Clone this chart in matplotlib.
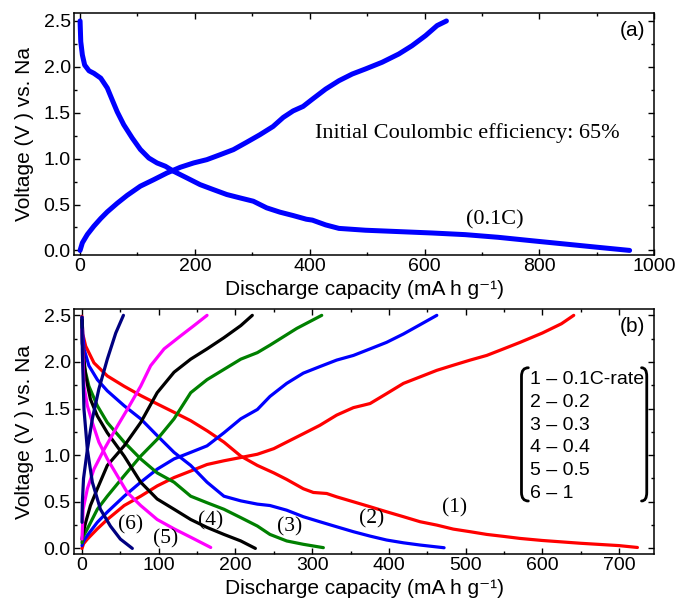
import matplotlib
matplotlib.use("Agg")
import matplotlib.pyplot as plt
from matplotlib.path import Path
from matplotlib.patches import PathPatch
from matplotlib.ticker import MultipleLocator, FormatStrFormatter

plt.rcParams["font.family"] = ["Liberation Sans", "DejaVu Sans"]
SERIF = ["Liberation Serif", "DejaVu Serif"]

# ---- (a) first cycle at 0.1C ----
a_dis_cap = [0, 1.2, 4, 8, 15.6, 24, 36, 47.4, 56, 64.7, 76, 90.8, 105, 119.7, 134, 148.6,
             163, 186, 209, 232, 255.5, 278.6, 301.7, 324.9, 348, 371, 394, 404.6, 427.7,
             450.8, 497, 555, 612.7, 670.5, 728, 786, 844, 901.6, 957]
a_dis_v = [2.5, 2.275, 2.13, 2.02, 1.957, 1.93, 1.877, 1.77, 1.64, 1.51, 1.37, 1.225, 1.10,
           1.007, 0.953, 0.917, 0.862, 0.79, 0.717, 0.663, 0.609, 0.572, 0.536, 0.464, 0.417,
           0.38, 0.34, 0.33, 0.278, 0.24, 0.22, 0.205, 0.19, 0.172, 0.143, 0.106, 0.07, 0.034, 0.0]
a_chg_cap = [0, 4, 12.7, 24, 36, 47.4, 64.7, 82, 105, 128, 151.4, 174.6, 197.7, 220.8, 244, 267,
             290, 313, 336, 353.8, 371, 388.4, 404.6, 427.7, 450.8, 474, 497, 526, 555, 578,
             601.6, 621.8, 638]
a_chg_v = [0.0, 0.083, 0.174, 0.264, 0.348, 0.42, 0.514, 0.60, 0.70, 0.77, 0.844, 0.906, 0.953,
           0.989, 1.043, 1.098, 1.178, 1.26, 1.35, 1.449, 1.52, 1.569, 1.648, 1.758, 1.849,
           1.922, 1.977, 2.05, 2.14, 2.23, 2.34, 2.45, 2.5]

# ---- (b) rate capability, curves 1..6 ----
rate_labels = ["1 \u2013 0.1C-rate", "2 \u2013 0.2", "3 \u2013 0.3", "4 \u2013 0.4", "5 \u2013 0.5", "6 \u2013 1"]
curve_tags = ["(1)", "(2)", "(3)", "(4)", "(5)", "(6)"]
colors = ["#ff0000", "#0000ff", "#008000", "#000000", "#ff00ff", "#000080"]

dis1_cap = [0, 1, 4.8, 15.6, 33, 54.8, 76.5, 98, 120, 141.7, 163.4, 185, 207, 228.6, 250, 266.8,
            288.5, 301.6, 319, 332, 353.8, 375.5, 397, 419, 440.8, 462.5, 484, 506, 527.6, 549.4,
            571, 600, 650, 700, 724]
dis1_v = [2.49, 2.3, 2.17, 1.99, 1.85, 1.74, 1.64, 1.55, 1.46, 1.37, 1.26, 1.14, 0.99, 0.89, 0.81,
          0.74, 0.64, 0.60, 0.589, 0.553, 0.50, 0.447, 0.393, 0.34, 0.286, 0.25, 0.207, 0.179,
          0.15, 0.129, 0.107, 0.085, 0.055, 0.03, 0.01]
chg1_cap = [0, 2, 7, 20, 33, 55, 76.5, 98, 120, 141.7, 163, 185, 207, 228.6, 250, 266.8, 288.5,
            310, 332, 353.8, 366.8, 375.5, 397, 419, 440.8, 462.5, 484, 506, 527.6, 549.4, 571,
            600, 625, 641]
chg1_v = [0.0, 0.05, 0.1, 0.21, 0.31, 0.46, 0.56, 0.67, 0.76, 0.83, 0.90, 0.94, 0.975, 1.01, 1.07,
          1.14, 1.23, 1.32, 1.43, 1.51, 1.536, 1.554, 1.66, 1.77, 1.84, 1.91, 1.965, 2.02, 2.07,
          2.14, 2.21, 2.31, 2.41, 2.5]

dis2_cap = [0, 1, 2.6, 9, 20, 33, 55, 76.5, 98, 120, 141.7, 163, 185, 207, 228.6, 245, 266.8,
            288.5, 310, 332, 353.8, 375.5, 397, 419, 440.8, 472]
dis2_v = [2.48, 2.3, 2.14, 1.96, 1.81, 1.69, 1.53, 1.39, 1.21, 1.03, 0.89, 0.71, 0.56, 0.51, 0.475,
          0.46, 0.41, 0.34, 0.286, 0.232, 0.179, 0.132, 0.09, 0.06, 0.036, 0.007]
chg2_cap = [0, 2, 7, 20, 33, 55, 76.5, 98, 120, 141.7, 163, 185, 207, 228.6, 245, 266.8, 288.5,
            310, 332, 353.8, 375.5, 397, 419, 440.8, 462.5]
chg2_v = [0.03, 0.08, 0.14, 0.28, 0.39, 0.56, 0.71, 0.85, 0.96, 1.03, 1.10, 1.24, 1.39, 1.49,
          1.63, 1.77, 1.88, 1.95, 2.02, 2.07, 2.14, 2.21, 2.30, 2.40, 2.5]

dis3_cap = [0, 0.5, 2.6, 9, 20, 33, 55, 76.5, 98, 120, 141.7, 163, 185, 207, 228.6, 245, 266.8,
            288.5, 314.6]
dis3_v = [2.45, 2.2, 1.96, 1.74, 1.53, 1.35, 1.14, 0.96, 0.81, 0.71, 0.56, 0.49, 0.42, 0.33, 0.24,
          0.15, 0.08, 0.044, 0.008]
chg3_cap = [0, 1, 7, 20, 33, 55, 76.5, 98, 120, 141.7, 163, 185, 207, 228.6, 245, 280, 312.5]
chg3_v = [0.06, 0.12, 0.21, 0.42, 0.56, 0.78, 0.99, 1.17, 1.39, 1.67, 1.81, 1.92, 2.03, 2.1, 2.18,
          2.36, 2.5]

dis4_cap = [0, 0.5, 4.8, 11, 20, 33, 55, 76.5, 98, 120, 141.7, 163, 185, 207, 226]
dis4_v = [2.45, 2.2, 1.85, 1.6, 1.42, 1.24, 0.99, 0.71, 0.53, 0.42, 0.31, 0.225, 0.15, 0.08, 0.0]
chg4_cap = [0, 1, 4.8, 11, 20, 33, 55, 76.5, 98, 120, 141.7, 163, 185, 207, 222]
chg4_v = [0.1, 0.15, 0.28, 0.46, 0.64, 0.89, 1.1, 1.35, 1.67, 1.89, 2.03, 2.14, 2.26, 2.39, 2.5]

dis5_cap = [0, 0.5, 2.6, 7, 13.5, 22, 33, 46, 59, 76.5, 98, 120, 141.7, 167.8]
dis5_v = [2.35, 2.24, 1.74, 1.53, 1.35, 1.14, 0.96, 0.78, 0.6, 0.46, 0.31, 0.21, 0.12, 0.01]
chg5_cap = [0, 1.5, 7, 15.6, 28.7, 46, 59, 76.5, 89.5, 107, 128.6, 146, 163]
chg5_v = [0.1, 0.42, 0.64, 0.85, 1.06, 1.31, 1.49, 1.74, 1.96, 2.14, 2.28, 2.39, 2.5]

dis6_cap = [0, 0.5, 2.6, 7, 13.5, 24, 37, 50, 65.6]
dis6_v = [2.48, 2.1, 1.49, 1.06, 0.71, 0.42, 0.24, 0.1, 0.0]
chg6_cap = [0, 0.5, 2, 7, 13.5, 22, 33, 44, 54]
chg6_v = [0.28, 0.5, 0.75, 1.06, 1.39, 1.71, 2.03, 2.31, 2.5]

# where the (n) tags sit
tag_cap = [486, 378, 270, 168, 109, 63.5]
tag_v = [0.43, 0.32, 0.235, 0.30, 0.107, 0.25]

discharges = [(dis1_cap, dis1_v), (dis2_cap, dis2_v), (dis3_cap, dis3_v),
              (dis4_cap, dis4_v), (dis5_cap, dis5_v), (dis6_cap, dis6_v)]
charges = [(chg1_cap, chg1_v), (chg2_cap, chg2_v), (chg3_cap, chg3_v),
           (chg4_cap, chg4_v), (chg5_cap, chg5_v), (chg6_cap, chg6_v)]

TICK_FS = 14
LABEL_FS = 15
XLABEL = "Discharge capacity (mA h g\u207b\u00b9)"


def style_axes(ax, xmajor, xminor, xpad):
    ax.xaxis.set_major_locator(MultipleLocator(xmajor))
    ax.xaxis.set_minor_locator(MultipleLocator(xminor))
    ax.yaxis.set_major_locator(MultipleLocator(0.5))
    ax.yaxis.set_minor_locator(MultipleLocator(0.25))
    ax.yaxis.set_major_formatter(FormatStrFormatter("%.1f"))
    ax.tick_params(which="both", direction="in", top=True, right=True, width=1.0)
    ax.tick_params(which="major", length=4.0, labelsize=TICK_FS)
    ax.tick_params(which="minor", length=2.4)
    ax.tick_params(axis="x", pad=xpad)
    ax.tick_params(axis="y", pad=2.5)
    for sp in ax.spines.values():
        sp.set_linewidth(1.1)
    ax.set_ylabel("Voltage (V ) vs. Na", fontsize=LABEL_FS)
    ax.yaxis.set_label_coords(-0.07, 0.5)


fig = plt.figure(figsize=(6.8, 6.05), dpi=100)

# ---------------- panel (a) ----------------
ax1 = fig.add_axes([0.1093, 0.5785, 0.8529, 0.4005])
ax1.plot(a_dis_cap, a_dis_v, color="#0000ff", lw=3.6, solid_capstyle="round", solid_joinstyle="round")
ax1.plot(a_chg_cap, a_chg_v, color="#0000ff", lw=3.6, solid_capstyle="round", solid_joinstyle="round")
ax1.set_xlim(-10, 1000)
ax1.set_ylim(-0.05, 2.59)
style_axes(ax1, 200, 100, 2.0)
ax1.set_xlabel(XLABEL, fontsize=LABEL_FS)
ax1.xaxis.set_label_coords(0.5, -0.103)
ax1.text(962, 2.40, "(a)", fontsize=15, ha="center", va="center")
ax1.text(675, 1.274, "Initial Coulombic efficiency: 65%", fontsize=16, family=SERIF,
         ha="center", va="center")
ax1.text(722, 0.333, "(0.1C)", fontsize=16, family=SERIF, ha="center", va="center")

# ---------------- panel (b) ----------------
ax2 = fig.add_axes([0.1093, 0.0843, 0.8529, 0.4045])
for (dc, dv), (cc, cv), col in zip(discharges, charges, colors):
    ax2.plot(dc, dv, color=col, lw=2.3, solid_capstyle="round", solid_joinstyle="round")
    ax2.plot(cc, cv, color=col, lw=2.3, solid_capstyle="round", solid_joinstyle="round")
for tag, x, y in zip(curve_tags, tag_cap, tag_v):
    ax2.text(x, y, tag, fontsize=15.5, family=SERIF, ha="center", va="center")
ax2.set_xlim(-10, 746)
ax2.set_ylim(-0.06, 2.565)
style_axes(ax2, 100, 50, 2.0)
ax2.set_xlabel(XLABEL, fontsize=LABEL_FS)
ax2.xaxis.set_label_coords(0.5, -0.102)
ax2.text(0.962, 0.93, "(b)", transform=ax2.transAxes, fontsize=15, ha="center", va="center")

# rate list with bracket
row_y = [0.715, 0.62, 0.527, 0.434, 0.343, 0.248]
for lab, y in zip(rate_labels, row_y):
    ax2.text(0.786, y, lab, transform=ax2.transAxes, fontsize=14, ha="left", va="center")


def bracket(ax, x_in, x_out, y_top, y_bot, r=0.035):
    verts = [(x_in, y_top), (x_out, y_top), (x_out, y_top - r),
             (x_out, y_bot + r), (x_out, y_bot), (x_in, y_bot)]
    codes = [Path.MOVETO, Path.CURVE3, Path.CURVE3, Path.LINETO, Path.CURVE3, Path.CURVE3]
    ax.add_patch(PathPatch(Path(verts, codes), transform=ax.transAxes, fill=False,
                           lw=2.0, edgecolor="black", capstyle="round"))


bracket(ax2, 0.7828, 0.771, 0.761, 0.2166)
bracket(ax2, 0.978, 0.987, 0.761, 0.2166)

fig.savefig("out.png", dpi=100)
